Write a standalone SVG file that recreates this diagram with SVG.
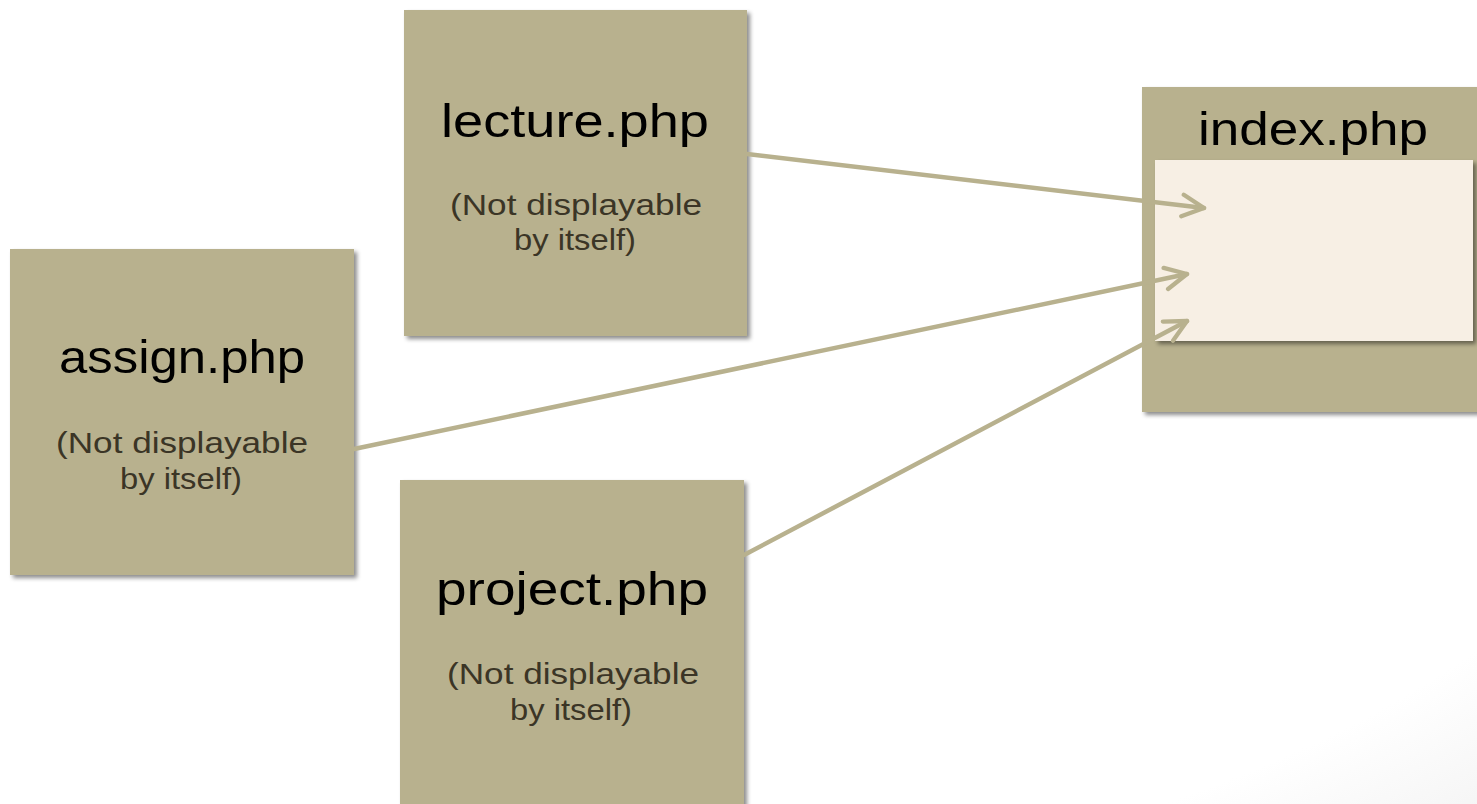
<svg xmlns="http://www.w3.org/2000/svg" width="1477" height="804" viewBox="0 0 1477 804">
  <style>
    .box { fill: #b8b18e; filter: url(#shadow); }
    .page { fill: #f7efe4; filter: url(#shadow); }
    .title { font-family: "Liberation Sans", Arial, sans-serif; font-size: 46px; fill: #000; text-anchor: middle; }
    .note { font-family: "Liberation Sans", Arial, sans-serif; font-size: 29px; fill: #3b3526; text-anchor: middle; }
    .link { stroke: #b8b18e; stroke-width: 4.5; fill: none; stroke-linecap: round; marker-end: url(#open); }
  </style>
  <defs>
    <filter id="shadow" x="-10%" y="-10%" width="130%" height="130%">
      <feDropShadow dx="3" dy="3" stdDeviation="2" flood-color="#000" flood-opacity="0.45"/>
    </filter>
    <radialGradient id="bg" cx="0.35" cy="0.3" r="1.1">
      <stop offset="0.75" stop-color="#ffffff"/>
      <stop offset="1" stop-color="#ebebeb"/>
    </radialGradient>
    <marker id="open" viewBox="0 0 10 10" refX="9" refY="5" markerWidth="6" markerHeight="6" markerUnits="strokeWidth" orient="auto">
      <path d="M1,1 L9,5 L1,9" fill="none" stroke="#b8b18e" stroke-width="1.6" stroke-linecap="round" stroke-linejoin="round"/>
    </marker>
  </defs>

  <rect width="1477" height="804" fill="url(#bg)"/>

  <g id="lecture">
    <rect class="box" x="404" y="10" width="343" height="326"/>
    <text class="title" x="575" y="137" textLength="268" lengthAdjust="spacingAndGlyphs">lecture.php</text>
    <text class="note" x="576" y="215" textLength="252" lengthAdjust="spacingAndGlyphs">(Not displayable</text>
    <text class="note" x="575" y="250" textLength="122" lengthAdjust="spacingAndGlyphs">by itself)</text>
  </g>

  <g id="assign">
    <rect class="box" x="10" y="249" width="344" height="326"/>
    <text class="title" x="182" y="373" textLength="246" lengthAdjust="spacingAndGlyphs">assign.php</text>
    <text class="note" x="182" y="453" textLength="252" lengthAdjust="spacingAndGlyphs">(Not displayable</text>
    <text class="note" x="181" y="489" textLength="122" lengthAdjust="spacingAndGlyphs">by itself)</text>
  </g>

  <g id="project">
    <rect class="box" x="400" y="480" width="344" height="330"/>
    <text class="title" x="572" y="605" textLength="272" lengthAdjust="spacingAndGlyphs">project.php</text>
    <text class="note" x="573" y="684" textLength="252" lengthAdjust="spacingAndGlyphs">(Not displayable</text>
    <text class="note" x="571" y="720" textLength="122" lengthAdjust="spacingAndGlyphs">by itself)</text>
  </g>

  <g id="index">
    <rect class="box" x="1142" y="87" width="340" height="325"/>
    <text class="title" x="1313" y="145" textLength="230" lengthAdjust="spacingAndGlyphs">index.php</text>
    <rect class="page" x="1155" y="160" width="318" height="181"/>
  </g>

  <g id="connectors">
    <line class="link" x1="747" y1="154" x2="1204" y2="208"/>
    <line class="link" x1="354" y1="449" x2="1187" y2="274"/>
    <line class="link" x1="744" y1="555" x2="1187" y2="321"/>
  </g>
</svg>
